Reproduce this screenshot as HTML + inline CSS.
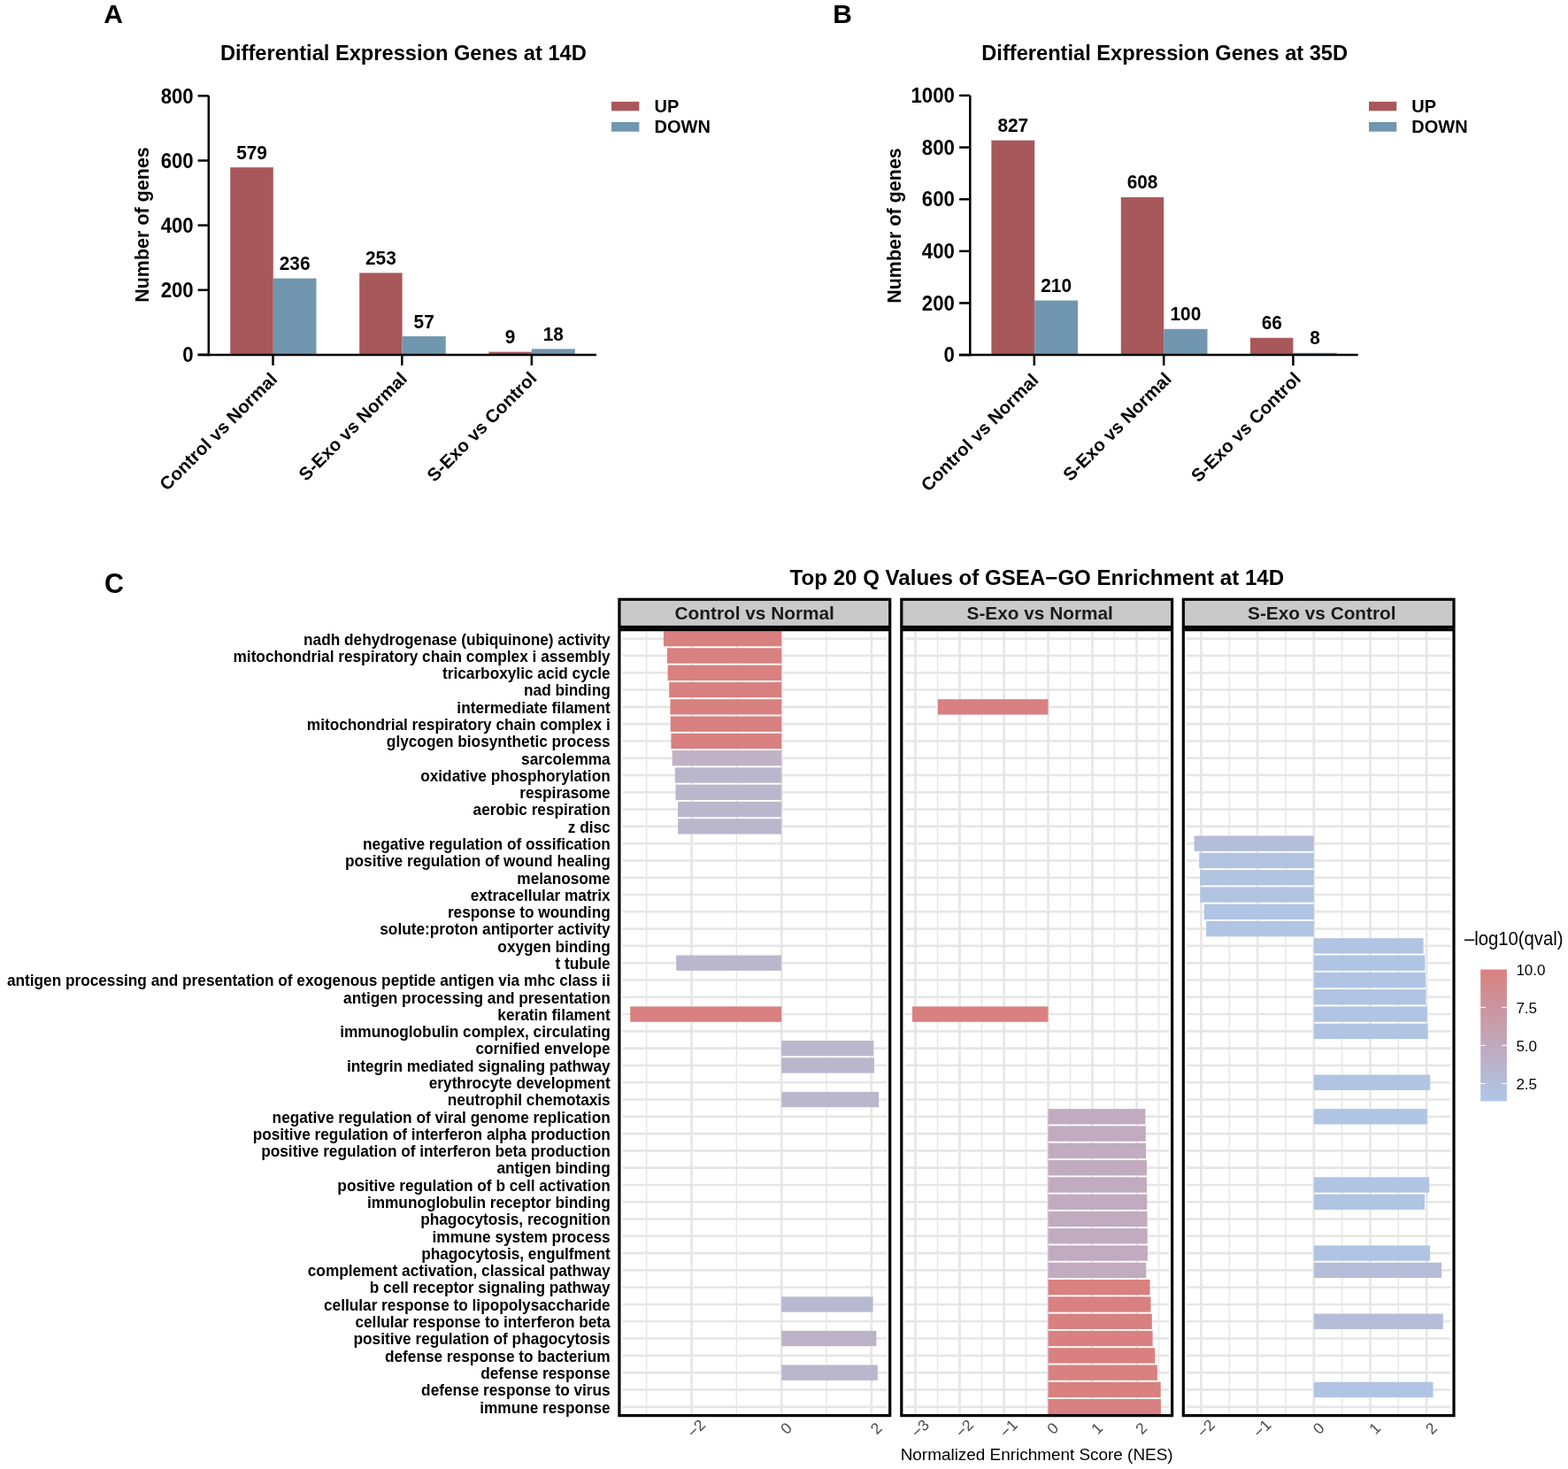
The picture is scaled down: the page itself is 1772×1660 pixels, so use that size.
<!DOCTYPE html>
<html><head><meta charset="utf-8"><title>Differential expression figure</title>
<style>
html,body{margin:0;padding:0;background:#fff;}
body{width:1772px;height:1660px;overflow:hidden;}
svg{display:block;font-family:'Liberation Sans', Arial, Helvetica, sans-serif;}
</style></head><body>
<svg width="1772" height="1660" viewBox="0 0 1772 1660">
<rect x="0" y="0" width="1772" height="1660" fill="#fff"/>
<text x="117.30" y="25.70" font-size="30" font-weight="bold" text-anchor="start" fill="#000" >A</text>
<text x="941.20" y="26.00" font-size="30" font-weight="bold" text-anchor="start" fill="#000" >B</text>
<text x="118.00" y="669.60" font-size="30.5" font-weight="bold" text-anchor="start" fill="#000" >C</text>
<defs><clipPath id="clip0"><rect x="701.50" y="713.30" width="302.60" height="884.70"/></clipPath><clipPath id="clip1"><rect x="1020.40" y="713.30" width="302.60" height="884.70"/></clipPath><clipPath id="clip2"><rect x="1338.90" y="713.30" width="302.50" height="884.70"/></clipPath></defs>
<text x="248.90" y="67.80" font-size="23" font-weight="bold" text-anchor="start" fill="#000" textLength="413.9" lengthAdjust="spacingAndGlyphs" >Differential Expression Genes at 14D</text>
<rect x="260.20" y="189.13" width="48.60" height="211.77" fill="#a8585a" />
<rect x="308.80" y="314.58" width="48.70" height="86.32" fill="#7097af" />
<text transform="translate(284.50 179.63) scale(1.0 1.06)" font-size="20.8" font-weight="bold" text-anchor="middle" fill="#000" >579</text>
<text transform="translate(333.15 305.08) scale(1.0 1.06)" font-size="20.8" font-weight="bold" text-anchor="middle" fill="#000" >236</text>
<rect x="406.20" y="308.37" width="48.40" height="92.53" fill="#a8585a" />
<rect x="454.60" y="380.05" width="49.10" height="20.85" fill="#7097af" />
<text transform="translate(430.40 298.87) scale(1.0 1.06)" font-size="20.8" font-weight="bold" text-anchor="middle" fill="#000" >253</text>
<text transform="translate(479.15 370.55) scale(1.0 1.06)" font-size="20.8" font-weight="bold" text-anchor="middle" fill="#000" >57</text>
<rect x="552.40" y="397.61" width="48.40" height="3.29" fill="#a8585a" />
<rect x="600.80" y="394.32" width="49.00" height="6.58" fill="#7097af" />
<text transform="translate(576.60 388.11) scale(1.0 1.06)" font-size="20.8" font-weight="bold" text-anchor="middle" fill="#000" >9</text>
<text transform="translate(625.30 384.82) scale(1.0 1.06)" font-size="20.8" font-weight="bold" text-anchor="middle" fill="#000" >18</text>
<line x1="235.80" y1="108.30" x2="235.80" y2="402.15" stroke="#000" stroke-width="2.5" />
<line x1="223.60" y1="400.90" x2="674.00" y2="400.90" stroke="#000" stroke-width="2.5" />
<line x1="223.60" y1="400.90" x2="235.80" y2="400.90" stroke="#000" stroke-width="2.5" />
<text transform="translate(218.70 409.10) scale(1.0 1.05)" font-size="22.2" font-weight="bold" text-anchor="end" fill="#000" >0</text>
<line x1="223.60" y1="327.75" x2="235.80" y2="327.75" stroke="#000" stroke-width="2.5" />
<text transform="translate(218.70 335.95) scale(1.0 1.05)" font-size="22.2" font-weight="bold" text-anchor="end" fill="#000" >200</text>
<line x1="223.60" y1="254.60" x2="235.80" y2="254.60" stroke="#000" stroke-width="2.5" />
<text transform="translate(218.70 262.80) scale(1.0 1.05)" font-size="22.2" font-weight="bold" text-anchor="end" fill="#000" >400</text>
<line x1="223.60" y1="181.45" x2="235.80" y2="181.45" stroke="#000" stroke-width="2.5" />
<text transform="translate(218.70 189.65) scale(1.0 1.05)" font-size="22.2" font-weight="bold" text-anchor="end" fill="#000" >600</text>
<line x1="223.60" y1="108.30" x2="235.80" y2="108.30" stroke="#000" stroke-width="2.5" />
<text transform="translate(218.70 116.50) scale(1.0 1.05)" font-size="22.2" font-weight="bold" text-anchor="end" fill="#000" >800</text>
<line x1="308.50" y1="400.90" x2="308.50" y2="412.90" stroke="#000" stroke-width="2.5" />
<line x1="454.30" y1="400.90" x2="454.30" y2="412.90" stroke="#000" stroke-width="2.5" />
<line x1="600.80" y1="400.90" x2="600.80" y2="412.90" stroke="#000" stroke-width="2.5" />
<text x="168.00" y="254.00" font-size="21.5" font-weight="bold" text-anchor="middle" fill="#000" transform="rotate(-90 168.00 254.00)">Number of genes</text>
<text x="314.50" y="429.80" font-size="20.5" font-weight="bold" text-anchor="end" fill="#000" transform="rotate(-45 314.50 429.80)">Control vs Normal</text>
<text x="461.30" y="429.30" font-size="20.5" font-weight="bold" text-anchor="end" fill="#000" transform="rotate(-45 461.30 429.30)">S-Exo vs Normal</text>
<text x="607.70" y="428.60" font-size="20.5" font-weight="bold" text-anchor="end" fill="#000" transform="rotate(-45 607.70 428.60)">S-Exo vs Control</text>
<rect x="691.00" y="114.90" width="31.40" height="10.40" fill="#a8585a" />
<rect x="691.00" y="138.00" width="31.40" height="10.70" fill="#7097af" />
<text x="739.50" y="126.90" font-size="20" font-weight="bold" text-anchor="start" fill="#000" >UP</text>
<text x="739.50" y="149.90" font-size="20" font-weight="bold" text-anchor="start" fill="#000" >DOWN</text>
<text x="1109.30" y="68.20" font-size="23" font-weight="bold" text-anchor="start" fill="#000" textLength="413.8" lengthAdjust="spacingAndGlyphs" >Differential Expression Genes at 35D</text>
<rect x="1120.40" y="158.62" width="48.80" height="242.48" fill="#a8585a" />
<rect x="1169.20" y="339.53" width="48.90" height="61.57" fill="#7097af" />
<text transform="translate(1144.80 149.12) scale(1.0 1.06)" font-size="20.8" font-weight="bold" text-anchor="middle" fill="#000" >827</text>
<text transform="translate(1193.65 330.03) scale(1.0 1.06)" font-size="20.8" font-weight="bold" text-anchor="middle" fill="#000" >210</text>
<rect x="1266.80" y="222.83" width="48.40" height="178.27" fill="#a8585a" />
<rect x="1315.20" y="371.78" width="49.30" height="29.32" fill="#7097af" />
<text transform="translate(1291.00 213.33) scale(1.0 1.06)" font-size="20.8" font-weight="bold" text-anchor="middle" fill="#000" >608</text>
<text transform="translate(1339.85 362.28) scale(1.0 1.06)" font-size="20.8" font-weight="bold" text-anchor="middle" fill="#000" >100</text>
<rect x="1413.00" y="381.75" width="48.40" height="19.35" fill="#a8585a" />
<rect x="1461.40" y="398.75" width="49.30" height="2.35" fill="#7097af" />
<text transform="translate(1437.20 372.25) scale(1.0 1.06)" font-size="20.8" font-weight="bold" text-anchor="middle" fill="#000" >66</text>
<text transform="translate(1486.05 389.25) scale(1.0 1.06)" font-size="20.8" font-weight="bold" text-anchor="middle" fill="#000" >8</text>
<line x1="1096.30" y1="107.90" x2="1096.30" y2="402.35" stroke="#000" stroke-width="2.5" />
<line x1="1083.80" y1="401.10" x2="1534.70" y2="401.10" stroke="#000" stroke-width="2.5" />
<line x1="1084.10" y1="401.10" x2="1096.30" y2="401.10" stroke="#000" stroke-width="2.5" />
<text transform="translate(1078.90 409.30) scale(1.0 1.05)" font-size="22.2" font-weight="bold" text-anchor="end" fill="#000" >0</text>
<line x1="1084.10" y1="342.46" x2="1096.30" y2="342.46" stroke="#000" stroke-width="2.5" />
<text transform="translate(1078.90 350.66) scale(1.0 1.05)" font-size="22.2" font-weight="bold" text-anchor="end" fill="#000" >200</text>
<line x1="1084.10" y1="283.82" x2="1096.30" y2="283.82" stroke="#000" stroke-width="2.5" />
<text transform="translate(1078.90 292.02) scale(1.0 1.05)" font-size="22.2" font-weight="bold" text-anchor="end" fill="#000" >400</text>
<line x1="1084.10" y1="225.18" x2="1096.30" y2="225.18" stroke="#000" stroke-width="2.5" />
<text transform="translate(1078.90 233.38) scale(1.0 1.05)" font-size="22.2" font-weight="bold" text-anchor="end" fill="#000" >600</text>
<line x1="1084.10" y1="166.54" x2="1096.30" y2="166.54" stroke="#000" stroke-width="2.5" />
<text transform="translate(1078.90 174.74) scale(1.0 1.05)" font-size="22.2" font-weight="bold" text-anchor="end" fill="#000" >800</text>
<line x1="1084.10" y1="107.90" x2="1096.30" y2="107.90" stroke="#000" stroke-width="2.5" />
<text transform="translate(1078.90 116.10) scale(1.0 1.05)" font-size="22.2" font-weight="bold" text-anchor="end" fill="#000" >1000</text>
<line x1="1168.80" y1="401.10" x2="1168.80" y2="413.10" stroke="#000" stroke-width="2.5" />
<line x1="1315.20" y1="401.10" x2="1315.20" y2="413.10" stroke="#000" stroke-width="2.5" />
<line x1="1461.40" y1="401.10" x2="1461.40" y2="413.10" stroke="#000" stroke-width="2.5" />
<text x="1017.50" y="255.00" font-size="21.5" font-weight="bold" text-anchor="middle" fill="#000" transform="rotate(-90 1017.50 255.00)">Number of genes</text>
<text x="1174.80" y="430.80" font-size="20.5" font-weight="bold" text-anchor="end" fill="#000" transform="rotate(-45 1174.80 430.80)">Control vs Normal</text>
<text x="1325.00" y="429.60" font-size="20.5" font-weight="bold" text-anchor="end" fill="#000" transform="rotate(-45 1325.00 429.60)">S-Exo vs Normal</text>
<text x="1471.30" y="429.30" font-size="20.5" font-weight="bold" text-anchor="end" fill="#000" transform="rotate(-45 1471.30 429.30)">S-Exo vs Control</text>
<rect x="1547.00" y="114.90" width="31.30" height="10.40" fill="#a8585a" />
<rect x="1547.00" y="138.00" width="31.30" height="10.70" fill="#7097af" />
<text x="1595.30" y="126.90" font-size="20" font-weight="bold" text-anchor="start" fill="#000" >UP</text>
<text x="1595.30" y="149.90" font-size="20" font-weight="bold" text-anchor="start" fill="#000" >DOWN</text>
<text x="892.60" y="661.30" font-size="23" font-weight="bold" text-anchor="start" fill="#000" textLength="558.5" lengthAdjust="spacingAndGlyphs" >Top 20 Q Values of GSEA−GO Enrichment at 14D</text>
<rect x="701.50" y="713.30" width="302.60" height="884.70" fill="#fff" />
<g clip-path="url(#clip0)">
<line x1="730.65" y1="713.30" x2="730.65" y2="1598.00" stroke="#e6e6e6" stroke-width="1.4" />
<line x1="781.50" y1="713.30" x2="781.50" y2="1598.00" stroke="#e6e6e6" stroke-width="2.6" />
<line x1="832.35" y1="713.30" x2="832.35" y2="1598.00" stroke="#e6e6e6" stroke-width="1.4" />
<line x1="883.20" y1="713.30" x2="883.20" y2="1598.00" stroke="#e6e6e6" stroke-width="2.6" />
<line x1="934.05" y1="713.30" x2="934.05" y2="1598.00" stroke="#e6e6e6" stroke-width="1.4" />
<line x1="984.90" y1="713.30" x2="984.90" y2="1598.00" stroke="#e6e6e6" stroke-width="2.6" />
<line x1="703.50" y1="721.70" x2="1002.10" y2="721.70" stroke="#e6e6e6" stroke-width="2.6" />
<line x1="703.50" y1="740.99" x2="1002.10" y2="740.99" stroke="#e6e6e6" stroke-width="2.6" />
<line x1="703.50" y1="760.28" x2="1002.10" y2="760.28" stroke="#e6e6e6" stroke-width="2.6" />
<line x1="703.50" y1="779.57" x2="1002.10" y2="779.57" stroke="#e6e6e6" stroke-width="2.6" />
<line x1="703.50" y1="798.86" x2="1002.10" y2="798.86" stroke="#e6e6e6" stroke-width="2.6" />
<line x1="703.50" y1="818.15" x2="1002.10" y2="818.15" stroke="#e6e6e6" stroke-width="2.6" />
<line x1="703.50" y1="837.43" x2="1002.10" y2="837.43" stroke="#e6e6e6" stroke-width="2.6" />
<line x1="703.50" y1="856.72" x2="1002.10" y2="856.72" stroke="#e6e6e6" stroke-width="2.6" />
<line x1="703.50" y1="876.01" x2="1002.10" y2="876.01" stroke="#e6e6e6" stroke-width="2.6" />
<line x1="703.50" y1="895.30" x2="1002.10" y2="895.30" stroke="#e6e6e6" stroke-width="2.6" />
<line x1="703.50" y1="914.59" x2="1002.10" y2="914.59" stroke="#e6e6e6" stroke-width="2.6" />
<line x1="703.50" y1="933.88" x2="1002.10" y2="933.88" stroke="#e6e6e6" stroke-width="2.6" />
<line x1="703.50" y1="953.17" x2="1002.10" y2="953.17" stroke="#e6e6e6" stroke-width="2.6" />
<line x1="703.50" y1="972.46" x2="1002.10" y2="972.46" stroke="#e6e6e6" stroke-width="2.6" />
<line x1="703.50" y1="991.75" x2="1002.10" y2="991.75" stroke="#e6e6e6" stroke-width="2.6" />
<line x1="703.50" y1="1011.04" x2="1002.10" y2="1011.04" stroke="#e6e6e6" stroke-width="2.6" />
<line x1="703.50" y1="1030.32" x2="1002.10" y2="1030.32" stroke="#e6e6e6" stroke-width="2.6" />
<line x1="703.50" y1="1049.61" x2="1002.10" y2="1049.61" stroke="#e6e6e6" stroke-width="2.6" />
<line x1="703.50" y1="1068.90" x2="1002.10" y2="1068.90" stroke="#e6e6e6" stroke-width="2.6" />
<line x1="703.50" y1="1088.19" x2="1002.10" y2="1088.19" stroke="#e6e6e6" stroke-width="2.6" />
<line x1="703.50" y1="1107.48" x2="1002.10" y2="1107.48" stroke="#e6e6e6" stroke-width="2.6" />
<line x1="703.50" y1="1126.77" x2="1002.10" y2="1126.77" stroke="#e6e6e6" stroke-width="2.6" />
<line x1="703.50" y1="1146.06" x2="1002.10" y2="1146.06" stroke="#e6e6e6" stroke-width="2.6" />
<line x1="703.50" y1="1165.35" x2="1002.10" y2="1165.35" stroke="#e6e6e6" stroke-width="2.6" />
<line x1="703.50" y1="1184.64" x2="1002.10" y2="1184.64" stroke="#e6e6e6" stroke-width="2.6" />
<line x1="703.50" y1="1203.93" x2="1002.10" y2="1203.93" stroke="#e6e6e6" stroke-width="2.6" />
<line x1="703.50" y1="1223.21" x2="1002.10" y2="1223.21" stroke="#e6e6e6" stroke-width="2.6" />
<line x1="703.50" y1="1242.50" x2="1002.10" y2="1242.50" stroke="#e6e6e6" stroke-width="2.6" />
<line x1="703.50" y1="1261.79" x2="1002.10" y2="1261.79" stroke="#e6e6e6" stroke-width="2.6" />
<line x1="703.50" y1="1281.08" x2="1002.10" y2="1281.08" stroke="#e6e6e6" stroke-width="2.6" />
<line x1="703.50" y1="1300.37" x2="1002.10" y2="1300.37" stroke="#e6e6e6" stroke-width="2.6" />
<line x1="703.50" y1="1319.66" x2="1002.10" y2="1319.66" stroke="#e6e6e6" stroke-width="2.6" />
<line x1="703.50" y1="1338.95" x2="1002.10" y2="1338.95" stroke="#e6e6e6" stroke-width="2.6" />
<line x1="703.50" y1="1358.24" x2="1002.10" y2="1358.24" stroke="#e6e6e6" stroke-width="2.6" />
<line x1="703.50" y1="1377.53" x2="1002.10" y2="1377.53" stroke="#e6e6e6" stroke-width="2.6" />
<line x1="703.50" y1="1396.82" x2="1002.10" y2="1396.82" stroke="#e6e6e6" stroke-width="2.6" />
<line x1="703.50" y1="1416.10" x2="1002.10" y2="1416.10" stroke="#e6e6e6" stroke-width="2.6" />
<line x1="703.50" y1="1435.39" x2="1002.10" y2="1435.39" stroke="#e6e6e6" stroke-width="2.6" />
<line x1="703.50" y1="1454.68" x2="1002.10" y2="1454.68" stroke="#e6e6e6" stroke-width="2.6" />
<line x1="703.50" y1="1473.97" x2="1002.10" y2="1473.97" stroke="#e6e6e6" stroke-width="2.6" />
<line x1="703.50" y1="1493.26" x2="1002.10" y2="1493.26" stroke="#e6e6e6" stroke-width="2.6" />
<line x1="703.50" y1="1512.55" x2="1002.10" y2="1512.55" stroke="#e6e6e6" stroke-width="2.6" />
<line x1="703.50" y1="1531.84" x2="1002.10" y2="1531.84" stroke="#e6e6e6" stroke-width="2.6" />
<line x1="703.50" y1="1551.13" x2="1002.10" y2="1551.13" stroke="#e6e6e6" stroke-width="2.6" />
<line x1="703.50" y1="1570.42" x2="1002.10" y2="1570.42" stroke="#e6e6e6" stroke-width="2.6" />
<line x1="703.50" y1="1589.71" x2="1002.10" y2="1589.71" stroke="#e6e6e6" stroke-width="2.6" />
<rect x="749.90" y="713.02" width="133.30" height="17.36" fill="#d98080" />
<rect x="753.90" y="732.31" width="129.30" height="17.36" fill="#d98080" />
<rect x="754.60" y="751.60" width="128.60" height="17.36" fill="#d98080" />
<rect x="756.20" y="770.89" width="127.00" height="17.36" fill="#d98080" />
<rect x="757.40" y="790.18" width="125.80" height="17.36" fill="#d98080" />
<rect x="757.70" y="809.47" width="125.50" height="17.36" fill="#d98080" />
<rect x="758.40" y="828.75" width="124.80" height="17.36" fill="#d98080" />
<rect x="759.70" y="848.04" width="123.50" height="17.36" fill="#c0b3c7" />
<rect x="762.80" y="867.33" width="120.40" height="17.36" fill="#bab7cd" />
<rect x="763.50" y="886.62" width="119.70" height="17.36" fill="#bab7cd" />
<rect x="766.00" y="905.91" width="117.20" height="17.36" fill="#bab7cd" />
<rect x="766.10" y="925.20" width="117.10" height="17.36" fill="#bab7cd" />
<rect x="764.20" y="1079.51" width="119.00" height="17.36" fill="#bab7cd" />
<rect x="712.20" y="1137.38" width="171.00" height="17.36" fill="#d98080" />
<rect x="883.20" y="1175.96" width="104.10" height="17.36" fill="#bab7cd" />
<rect x="883.20" y="1195.25" width="104.80" height="17.36" fill="#bab7cd" />
<rect x="883.20" y="1233.82" width="110.00" height="17.36" fill="#bab7cd" />
<rect x="883.20" y="1465.29" width="103.40" height="17.36" fill="#b8bad1" />
<rect x="883.20" y="1503.87" width="107.20" height="17.36" fill="#bcb3c9" />
<rect x="883.20" y="1542.45" width="108.60" height="17.36" fill="#bab7cd" />
</g>
<rect x="699.90" y="711.70" width="305.80" height="887.90" fill="none" stroke="#000" stroke-width="3.2"/>
<rect x="699.90" y="677.30" width="305.80" height="31.20" fill="#c9c9c9" stroke="#000" stroke-width="3.2"/>
<text x="852.70" y="700.30" font-size="20.8" font-weight="bold" text-anchor="middle" fill="#1a1a1a" >Control vs Normal</text>
<text transform="translate(791.06 1618.34) rotate(-45)" font-size="17.5" font-weight="normal" text-anchor="middle" fill="#4d4d4d" >−2</text>
<text transform="translate(892.76 1618.34) rotate(-45)" font-size="17.5" font-weight="normal" text-anchor="middle" fill="#4d4d4d" >0</text>
<text transform="translate(994.46 1618.34) rotate(-45)" font-size="17.5" font-weight="normal" text-anchor="middle" fill="#4d4d4d" >2</text>
<rect x="1020.40" y="713.30" width="302.60" height="884.70" fill="#fff" />
<g clip-path="url(#clip1)">
<line x1="1034.50" y1="713.30" x2="1034.50" y2="1598.00" stroke="#e6e6e6" stroke-width="2.6" />
<line x1="1059.50" y1="713.30" x2="1059.50" y2="1598.00" stroke="#e6e6e6" stroke-width="1.4" />
<line x1="1084.50" y1="713.30" x2="1084.50" y2="1598.00" stroke="#e6e6e6" stroke-width="2.6" />
<line x1="1109.50" y1="713.30" x2="1109.50" y2="1598.00" stroke="#e6e6e6" stroke-width="1.4" />
<line x1="1134.50" y1="713.30" x2="1134.50" y2="1598.00" stroke="#e6e6e6" stroke-width="2.6" />
<line x1="1159.50" y1="713.30" x2="1159.50" y2="1598.00" stroke="#e6e6e6" stroke-width="1.4" />
<line x1="1184.50" y1="713.30" x2="1184.50" y2="1598.00" stroke="#e6e6e6" stroke-width="2.6" />
<line x1="1209.50" y1="713.30" x2="1209.50" y2="1598.00" stroke="#e6e6e6" stroke-width="1.4" />
<line x1="1234.50" y1="713.30" x2="1234.50" y2="1598.00" stroke="#e6e6e6" stroke-width="2.6" />
<line x1="1259.50" y1="713.30" x2="1259.50" y2="1598.00" stroke="#e6e6e6" stroke-width="1.4" />
<line x1="1284.50" y1="713.30" x2="1284.50" y2="1598.00" stroke="#e6e6e6" stroke-width="2.6" />
<line x1="1309.50" y1="713.30" x2="1309.50" y2="1598.00" stroke="#e6e6e6" stroke-width="1.4" />
<line x1="1022.40" y1="721.70" x2="1321.00" y2="721.70" stroke="#e6e6e6" stroke-width="2.6" />
<line x1="1022.40" y1="740.99" x2="1321.00" y2="740.99" stroke="#e6e6e6" stroke-width="2.6" />
<line x1="1022.40" y1="760.28" x2="1321.00" y2="760.28" stroke="#e6e6e6" stroke-width="2.6" />
<line x1="1022.40" y1="779.57" x2="1321.00" y2="779.57" stroke="#e6e6e6" stroke-width="2.6" />
<line x1="1022.40" y1="798.86" x2="1321.00" y2="798.86" stroke="#e6e6e6" stroke-width="2.6" />
<line x1="1022.40" y1="818.15" x2="1321.00" y2="818.15" stroke="#e6e6e6" stroke-width="2.6" />
<line x1="1022.40" y1="837.43" x2="1321.00" y2="837.43" stroke="#e6e6e6" stroke-width="2.6" />
<line x1="1022.40" y1="856.72" x2="1321.00" y2="856.72" stroke="#e6e6e6" stroke-width="2.6" />
<line x1="1022.40" y1="876.01" x2="1321.00" y2="876.01" stroke="#e6e6e6" stroke-width="2.6" />
<line x1="1022.40" y1="895.30" x2="1321.00" y2="895.30" stroke="#e6e6e6" stroke-width="2.6" />
<line x1="1022.40" y1="914.59" x2="1321.00" y2="914.59" stroke="#e6e6e6" stroke-width="2.6" />
<line x1="1022.40" y1="933.88" x2="1321.00" y2="933.88" stroke="#e6e6e6" stroke-width="2.6" />
<line x1="1022.40" y1="953.17" x2="1321.00" y2="953.17" stroke="#e6e6e6" stroke-width="2.6" />
<line x1="1022.40" y1="972.46" x2="1321.00" y2="972.46" stroke="#e6e6e6" stroke-width="2.6" />
<line x1="1022.40" y1="991.75" x2="1321.00" y2="991.75" stroke="#e6e6e6" stroke-width="2.6" />
<line x1="1022.40" y1="1011.04" x2="1321.00" y2="1011.04" stroke="#e6e6e6" stroke-width="2.6" />
<line x1="1022.40" y1="1030.32" x2="1321.00" y2="1030.32" stroke="#e6e6e6" stroke-width="2.6" />
<line x1="1022.40" y1="1049.61" x2="1321.00" y2="1049.61" stroke="#e6e6e6" stroke-width="2.6" />
<line x1="1022.40" y1="1068.90" x2="1321.00" y2="1068.90" stroke="#e6e6e6" stroke-width="2.6" />
<line x1="1022.40" y1="1088.19" x2="1321.00" y2="1088.19" stroke="#e6e6e6" stroke-width="2.6" />
<line x1="1022.40" y1="1107.48" x2="1321.00" y2="1107.48" stroke="#e6e6e6" stroke-width="2.6" />
<line x1="1022.40" y1="1126.77" x2="1321.00" y2="1126.77" stroke="#e6e6e6" stroke-width="2.6" />
<line x1="1022.40" y1="1146.06" x2="1321.00" y2="1146.06" stroke="#e6e6e6" stroke-width="2.6" />
<line x1="1022.40" y1="1165.35" x2="1321.00" y2="1165.35" stroke="#e6e6e6" stroke-width="2.6" />
<line x1="1022.40" y1="1184.64" x2="1321.00" y2="1184.64" stroke="#e6e6e6" stroke-width="2.6" />
<line x1="1022.40" y1="1203.93" x2="1321.00" y2="1203.93" stroke="#e6e6e6" stroke-width="2.6" />
<line x1="1022.40" y1="1223.21" x2="1321.00" y2="1223.21" stroke="#e6e6e6" stroke-width="2.6" />
<line x1="1022.40" y1="1242.50" x2="1321.00" y2="1242.50" stroke="#e6e6e6" stroke-width="2.6" />
<line x1="1022.40" y1="1261.79" x2="1321.00" y2="1261.79" stroke="#e6e6e6" stroke-width="2.6" />
<line x1="1022.40" y1="1281.08" x2="1321.00" y2="1281.08" stroke="#e6e6e6" stroke-width="2.6" />
<line x1="1022.40" y1="1300.37" x2="1321.00" y2="1300.37" stroke="#e6e6e6" stroke-width="2.6" />
<line x1="1022.40" y1="1319.66" x2="1321.00" y2="1319.66" stroke="#e6e6e6" stroke-width="2.6" />
<line x1="1022.40" y1="1338.95" x2="1321.00" y2="1338.95" stroke="#e6e6e6" stroke-width="2.6" />
<line x1="1022.40" y1="1358.24" x2="1321.00" y2="1358.24" stroke="#e6e6e6" stroke-width="2.6" />
<line x1="1022.40" y1="1377.53" x2="1321.00" y2="1377.53" stroke="#e6e6e6" stroke-width="2.6" />
<line x1="1022.40" y1="1396.82" x2="1321.00" y2="1396.82" stroke="#e6e6e6" stroke-width="2.6" />
<line x1="1022.40" y1="1416.10" x2="1321.00" y2="1416.10" stroke="#e6e6e6" stroke-width="2.6" />
<line x1="1022.40" y1="1435.39" x2="1321.00" y2="1435.39" stroke="#e6e6e6" stroke-width="2.6" />
<line x1="1022.40" y1="1454.68" x2="1321.00" y2="1454.68" stroke="#e6e6e6" stroke-width="2.6" />
<line x1="1022.40" y1="1473.97" x2="1321.00" y2="1473.97" stroke="#e6e6e6" stroke-width="2.6" />
<line x1="1022.40" y1="1493.26" x2="1321.00" y2="1493.26" stroke="#e6e6e6" stroke-width="2.6" />
<line x1="1022.40" y1="1512.55" x2="1321.00" y2="1512.55" stroke="#e6e6e6" stroke-width="2.6" />
<line x1="1022.40" y1="1531.84" x2="1321.00" y2="1531.84" stroke="#e6e6e6" stroke-width="2.6" />
<line x1="1022.40" y1="1551.13" x2="1321.00" y2="1551.13" stroke="#e6e6e6" stroke-width="2.6" />
<line x1="1022.40" y1="1570.42" x2="1321.00" y2="1570.42" stroke="#e6e6e6" stroke-width="2.6" />
<line x1="1022.40" y1="1589.71" x2="1321.00" y2="1589.71" stroke="#e6e6e6" stroke-width="2.6" />
<rect x="1059.90" y="790.18" width="124.60" height="17.36" fill="#d98080" />
<rect x="1031.00" y="1137.38" width="153.50" height="17.36" fill="#d98080" />
<rect x="1184.50" y="1253.11" width="109.90" height="17.36" fill="#c1abc0" />
<rect x="1184.50" y="1272.40" width="110.30" height="17.36" fill="#c1abc0" />
<rect x="1184.50" y="1291.69" width="110.50" height="17.36" fill="#c1abc0" />
<rect x="1184.50" y="1310.98" width="111.50" height="17.36" fill="#c1abc0" />
<rect x="1184.50" y="1330.27" width="111.50" height="17.36" fill="#c1abc0" />
<rect x="1184.50" y="1349.56" width="111.80" height="17.36" fill="#c1abc0" />
<rect x="1184.50" y="1368.85" width="112.00" height="17.36" fill="#c1abc0" />
<rect x="1184.50" y="1388.13" width="112.20" height="17.36" fill="#c1abc0" />
<rect x="1184.50" y="1407.42" width="112.40" height="17.36" fill="#c1abc0" />
<rect x="1184.50" y="1426.71" width="110.80" height="17.36" fill="#c1abc0" />
<rect x="1184.50" y="1446.00" width="115.00" height="17.36" fill="#d98080" />
<rect x="1184.50" y="1465.29" width="116.00" height="17.36" fill="#d98080" />
<rect x="1184.50" y="1484.58" width="117.30" height="17.36" fill="#d98080" />
<rect x="1184.50" y="1503.87" width="118.10" height="17.36" fill="#d98080" />
<rect x="1184.50" y="1523.16" width="120.80" height="17.36" fill="#d98080" />
<rect x="1184.50" y="1542.45" width="123.40" height="17.36" fill="#d98080" />
<rect x="1184.50" y="1561.74" width="127.20" height="17.36" fill="#d98080" />
<rect x="1184.50" y="1581.03" width="127.40" height="17.36" fill="#d98080" />
</g>
<rect x="1018.80" y="711.70" width="305.80" height="887.90" fill="none" stroke="#000" stroke-width="3.2"/>
<rect x="1018.80" y="677.30" width="305.80" height="31.20" fill="#c9c9c9" stroke="#000" stroke-width="3.2"/>
<text x="1175.20" y="700.30" font-size="20.8" font-weight="bold" text-anchor="middle" fill="#1a1a1a" >S-Exo vs Normal</text>
<text transform="translate(1044.06 1618.34) rotate(-45)" font-size="17.5" font-weight="normal" text-anchor="middle" fill="#4d4d4d" >−3</text>
<text transform="translate(1094.06 1618.34) rotate(-45)" font-size="17.5" font-weight="normal" text-anchor="middle" fill="#4d4d4d" >−2</text>
<text transform="translate(1144.06 1618.34) rotate(-45)" font-size="17.5" font-weight="normal" text-anchor="middle" fill="#4d4d4d" >−1</text>
<text transform="translate(1194.06 1618.34) rotate(-45)" font-size="17.5" font-weight="normal" text-anchor="middle" fill="#4d4d4d" >0</text>
<text transform="translate(1244.06 1618.34) rotate(-45)" font-size="17.5" font-weight="normal" text-anchor="middle" fill="#4d4d4d" >1</text>
<text transform="translate(1294.06 1618.34) rotate(-45)" font-size="17.5" font-weight="normal" text-anchor="middle" fill="#4d4d4d" >2</text>
<rect x="1338.90" y="713.30" width="302.50" height="884.70" fill="#fff" />
<g clip-path="url(#clip2)">
<line x1="1357.40" y1="713.30" x2="1357.40" y2="1598.00" stroke="#e6e6e6" stroke-width="2.6" />
<line x1="1389.25" y1="713.30" x2="1389.25" y2="1598.00" stroke="#e6e6e6" stroke-width="1.4" />
<line x1="1421.10" y1="713.30" x2="1421.10" y2="1598.00" stroke="#e6e6e6" stroke-width="2.6" />
<line x1="1452.95" y1="713.30" x2="1452.95" y2="1598.00" stroke="#e6e6e6" stroke-width="1.4" />
<line x1="1484.80" y1="713.30" x2="1484.80" y2="1598.00" stroke="#e6e6e6" stroke-width="2.6" />
<line x1="1516.65" y1="713.30" x2="1516.65" y2="1598.00" stroke="#e6e6e6" stroke-width="1.4" />
<line x1="1548.50" y1="713.30" x2="1548.50" y2="1598.00" stroke="#e6e6e6" stroke-width="2.6" />
<line x1="1580.35" y1="713.30" x2="1580.35" y2="1598.00" stroke="#e6e6e6" stroke-width="1.4" />
<line x1="1612.20" y1="713.30" x2="1612.20" y2="1598.00" stroke="#e6e6e6" stroke-width="2.6" />
<line x1="1340.90" y1="721.70" x2="1639.40" y2="721.70" stroke="#e6e6e6" stroke-width="2.6" />
<line x1="1340.90" y1="740.99" x2="1639.40" y2="740.99" stroke="#e6e6e6" stroke-width="2.6" />
<line x1="1340.90" y1="760.28" x2="1639.40" y2="760.28" stroke="#e6e6e6" stroke-width="2.6" />
<line x1="1340.90" y1="779.57" x2="1639.40" y2="779.57" stroke="#e6e6e6" stroke-width="2.6" />
<line x1="1340.90" y1="798.86" x2="1639.40" y2="798.86" stroke="#e6e6e6" stroke-width="2.6" />
<line x1="1340.90" y1="818.15" x2="1639.40" y2="818.15" stroke="#e6e6e6" stroke-width="2.6" />
<line x1="1340.90" y1="837.43" x2="1639.40" y2="837.43" stroke="#e6e6e6" stroke-width="2.6" />
<line x1="1340.90" y1="856.72" x2="1639.40" y2="856.72" stroke="#e6e6e6" stroke-width="2.6" />
<line x1="1340.90" y1="876.01" x2="1639.40" y2="876.01" stroke="#e6e6e6" stroke-width="2.6" />
<line x1="1340.90" y1="895.30" x2="1639.40" y2="895.30" stroke="#e6e6e6" stroke-width="2.6" />
<line x1="1340.90" y1="914.59" x2="1639.40" y2="914.59" stroke="#e6e6e6" stroke-width="2.6" />
<line x1="1340.90" y1="933.88" x2="1639.40" y2="933.88" stroke="#e6e6e6" stroke-width="2.6" />
<line x1="1340.90" y1="953.17" x2="1639.40" y2="953.17" stroke="#e6e6e6" stroke-width="2.6" />
<line x1="1340.90" y1="972.46" x2="1639.40" y2="972.46" stroke="#e6e6e6" stroke-width="2.6" />
<line x1="1340.90" y1="991.75" x2="1639.40" y2="991.75" stroke="#e6e6e6" stroke-width="2.6" />
<line x1="1340.90" y1="1011.04" x2="1639.40" y2="1011.04" stroke="#e6e6e6" stroke-width="2.6" />
<line x1="1340.90" y1="1030.32" x2="1639.40" y2="1030.32" stroke="#e6e6e6" stroke-width="2.6" />
<line x1="1340.90" y1="1049.61" x2="1639.40" y2="1049.61" stroke="#e6e6e6" stroke-width="2.6" />
<line x1="1340.90" y1="1068.90" x2="1639.40" y2="1068.90" stroke="#e6e6e6" stroke-width="2.6" />
<line x1="1340.90" y1="1088.19" x2="1639.40" y2="1088.19" stroke="#e6e6e6" stroke-width="2.6" />
<line x1="1340.90" y1="1107.48" x2="1639.40" y2="1107.48" stroke="#e6e6e6" stroke-width="2.6" />
<line x1="1340.90" y1="1126.77" x2="1639.40" y2="1126.77" stroke="#e6e6e6" stroke-width="2.6" />
<line x1="1340.90" y1="1146.06" x2="1639.40" y2="1146.06" stroke="#e6e6e6" stroke-width="2.6" />
<line x1="1340.90" y1="1165.35" x2="1639.40" y2="1165.35" stroke="#e6e6e6" stroke-width="2.6" />
<line x1="1340.90" y1="1184.64" x2="1639.40" y2="1184.64" stroke="#e6e6e6" stroke-width="2.6" />
<line x1="1340.90" y1="1203.93" x2="1639.40" y2="1203.93" stroke="#e6e6e6" stroke-width="2.6" />
<line x1="1340.90" y1="1223.21" x2="1639.40" y2="1223.21" stroke="#e6e6e6" stroke-width="2.6" />
<line x1="1340.90" y1="1242.50" x2="1639.40" y2="1242.50" stroke="#e6e6e6" stroke-width="2.6" />
<line x1="1340.90" y1="1261.79" x2="1639.40" y2="1261.79" stroke="#e6e6e6" stroke-width="2.6" />
<line x1="1340.90" y1="1281.08" x2="1639.40" y2="1281.08" stroke="#e6e6e6" stroke-width="2.6" />
<line x1="1340.90" y1="1300.37" x2="1639.40" y2="1300.37" stroke="#e6e6e6" stroke-width="2.6" />
<line x1="1340.90" y1="1319.66" x2="1639.40" y2="1319.66" stroke="#e6e6e6" stroke-width="2.6" />
<line x1="1340.90" y1="1338.95" x2="1639.40" y2="1338.95" stroke="#e6e6e6" stroke-width="2.6" />
<line x1="1340.90" y1="1358.24" x2="1639.40" y2="1358.24" stroke="#e6e6e6" stroke-width="2.6" />
<line x1="1340.90" y1="1377.53" x2="1639.40" y2="1377.53" stroke="#e6e6e6" stroke-width="2.6" />
<line x1="1340.90" y1="1396.82" x2="1639.40" y2="1396.82" stroke="#e6e6e6" stroke-width="2.6" />
<line x1="1340.90" y1="1416.10" x2="1639.40" y2="1416.10" stroke="#e6e6e6" stroke-width="2.6" />
<line x1="1340.90" y1="1435.39" x2="1639.40" y2="1435.39" stroke="#e6e6e6" stroke-width="2.6" />
<line x1="1340.90" y1="1454.68" x2="1639.40" y2="1454.68" stroke="#e6e6e6" stroke-width="2.6" />
<line x1="1340.90" y1="1473.97" x2="1639.40" y2="1473.97" stroke="#e6e6e6" stroke-width="2.6" />
<line x1="1340.90" y1="1493.26" x2="1639.40" y2="1493.26" stroke="#e6e6e6" stroke-width="2.6" />
<line x1="1340.90" y1="1512.55" x2="1639.40" y2="1512.55" stroke="#e6e6e6" stroke-width="2.6" />
<line x1="1340.90" y1="1531.84" x2="1639.40" y2="1531.84" stroke="#e6e6e6" stroke-width="2.6" />
<line x1="1340.90" y1="1551.13" x2="1639.40" y2="1551.13" stroke="#e6e6e6" stroke-width="2.6" />
<line x1="1340.90" y1="1570.42" x2="1639.40" y2="1570.42" stroke="#e6e6e6" stroke-width="2.6" />
<line x1="1340.90" y1="1589.71" x2="1639.40" y2="1589.71" stroke="#e6e6e6" stroke-width="2.6" />
<rect x="1349.60" y="944.49" width="135.20" height="17.36" fill="#b5bed8" />
<rect x="1355.20" y="963.78" width="129.60" height="17.36" fill="#b2c3e0" />
<rect x="1356.10" y="983.07" width="128.70" height="17.36" fill="#b1c4e0" />
<rect x="1356.40" y="1002.36" width="128.40" height="17.36" fill="#b2c3e0" />
<rect x="1360.70" y="1021.64" width="124.10" height="17.36" fill="#b0c4e3" />
<rect x="1363.20" y="1040.93" width="121.60" height="17.36" fill="#b0c4e3" />
<rect x="1484.80" y="1060.22" width="123.80" height="17.36" fill="#b0c4e3" />
<rect x="1484.80" y="1079.51" width="125.50" height="17.36" fill="#b0c4e3" />
<rect x="1484.80" y="1098.80" width="126.10" height="17.36" fill="#b0c4e3" />
<rect x="1484.80" y="1118.09" width="126.40" height="17.36" fill="#b0c4e3" />
<rect x="1484.80" y="1137.38" width="128.00" height="17.36" fill="#b0c4e3" />
<rect x="1484.80" y="1156.67" width="128.80" height="17.36" fill="#b0c4e3" />
<rect x="1484.80" y="1214.53" width="131.40" height="17.36" fill="#b0c4e3" />
<rect x="1484.80" y="1253.11" width="128.00" height="17.36" fill="#b0c4e3" />
<rect x="1484.80" y="1330.27" width="130.40" height="17.36" fill="#b0c4e3" />
<rect x="1484.80" y="1349.56" width="125.20" height="17.36" fill="#b0c4e3" />
<rect x="1484.80" y="1407.42" width="131.30" height="17.36" fill="#b0c4e3" />
<rect x="1484.80" y="1426.71" width="144.30" height="17.36" fill="#b5bed8" />
<rect x="1484.80" y="1484.58" width="146.00" height="17.36" fill="#b5bed8" />
<rect x="1484.80" y="1561.74" width="134.70" height="17.36" fill="#b0c4e3" />
</g>
<rect x="1337.30" y="711.70" width="305.70" height="887.90" fill="none" stroke="#000" stroke-width="3.2"/>
<rect x="1337.30" y="677.30" width="305.70" height="31.20" fill="#c9c9c9" stroke="#000" stroke-width="3.2"/>
<text x="1493.80" y="700.30" font-size="20.8" font-weight="bold" text-anchor="middle" fill="#1a1a1a" >S-Exo vs Control</text>
<text transform="translate(1366.96 1618.34) rotate(-45)" font-size="17.5" font-weight="normal" text-anchor="middle" fill="#4d4d4d" >−2</text>
<text transform="translate(1430.66 1618.34) rotate(-45)" font-size="17.5" font-weight="normal" text-anchor="middle" fill="#4d4d4d" >−1</text>
<text transform="translate(1494.36 1618.34) rotate(-45)" font-size="17.5" font-weight="normal" text-anchor="middle" fill="#4d4d4d" >0</text>
<text transform="translate(1558.06 1618.34) rotate(-45)" font-size="17.5" font-weight="normal" text-anchor="middle" fill="#4d4d4d" >1</text>
<text transform="translate(1621.76 1618.34) rotate(-45)" font-size="17.5" font-weight="normal" text-anchor="middle" fill="#4d4d4d" >2</text>
<text transform="translate(689.70 728.50) scale(1.0 1.045)" font-size="17.25" font-weight="bold" text-anchor="end" fill="#000" >nadh dehydrogenase (ubiquinone) activity</text>
<text transform="translate(689.70 747.79) scale(1.0 1.045)" font-size="17.25" font-weight="bold" text-anchor="end" fill="#000" >mitochondrial respiratory chain complex i assembly</text>
<text transform="translate(689.70 767.08) scale(1.0 1.045)" font-size="17.25" font-weight="bold" text-anchor="end" fill="#000" >tricarboxylic acid cycle</text>
<text transform="translate(689.70 786.37) scale(1.0 1.045)" font-size="17.25" font-weight="bold" text-anchor="end" fill="#000" >nad binding</text>
<text transform="translate(689.70 805.66) scale(1.0 1.045)" font-size="17.25" font-weight="bold" text-anchor="end" fill="#000" >intermediate filament</text>
<text transform="translate(689.70 824.95) scale(1.0 1.045)" font-size="17.25" font-weight="bold" text-anchor="end" fill="#000" >mitochondrial respiratory chain complex i</text>
<text transform="translate(689.70 844.23) scale(1.0 1.045)" font-size="17.25" font-weight="bold" text-anchor="end" fill="#000" >glycogen biosynthetic process</text>
<text transform="translate(689.70 863.52) scale(1.0 1.045)" font-size="17.25" font-weight="bold" text-anchor="end" fill="#000" >sarcolemma</text>
<text transform="translate(689.70 882.81) scale(1.0 1.045)" font-size="17.25" font-weight="bold" text-anchor="end" fill="#000" >oxidative phosphorylation</text>
<text transform="translate(689.70 902.10) scale(1.0 1.045)" font-size="17.25" font-weight="bold" text-anchor="end" fill="#000" >respirasome</text>
<text transform="translate(689.70 921.39) scale(1.0 1.045)" font-size="17.25" font-weight="bold" text-anchor="end" fill="#000" >aerobic respiration</text>
<text transform="translate(689.70 940.68) scale(1.0 1.045)" font-size="17.25" font-weight="bold" text-anchor="end" fill="#000" >z disc</text>
<text transform="translate(689.70 959.97) scale(1.0 1.045)" font-size="17.25" font-weight="bold" text-anchor="end" fill="#000" >negative regulation of ossification</text>
<text transform="translate(689.70 979.26) scale(1.0 1.045)" font-size="17.25" font-weight="bold" text-anchor="end" fill="#000" >positive regulation of wound healing</text>
<text transform="translate(689.70 998.55) scale(1.0 1.045)" font-size="17.25" font-weight="bold" text-anchor="end" fill="#000" >melanosome</text>
<text transform="translate(689.70 1017.84) scale(1.0 1.045)" font-size="17.25" font-weight="bold" text-anchor="end" fill="#000" >extracellular matrix</text>
<text transform="translate(689.70 1037.12) scale(1.0 1.045)" font-size="17.25" font-weight="bold" text-anchor="end" fill="#000" >response to wounding</text>
<text transform="translate(689.70 1056.41) scale(1.0 1.045)" font-size="17.25" font-weight="bold" text-anchor="end" fill="#000" >solute:proton antiporter activity</text>
<text transform="translate(689.70 1075.70) scale(1.0 1.045)" font-size="17.25" font-weight="bold" text-anchor="end" fill="#000" >oxygen binding</text>
<text transform="translate(689.70 1094.99) scale(1.0 1.045)" font-size="17.25" font-weight="bold" text-anchor="end" fill="#000" >t tubule</text>
<text transform="translate(689.70 1114.28) scale(1.0 1.045)" font-size="17.25" font-weight="bold" text-anchor="end" fill="#000" >antigen processing and presentation of exogenous peptide antigen via mhc class ii</text>
<text transform="translate(689.70 1133.57) scale(1.0 1.045)" font-size="17.25" font-weight="bold" text-anchor="end" fill="#000" >antigen processing and presentation</text>
<text transform="translate(689.70 1152.86) scale(1.0 1.045)" font-size="17.25" font-weight="bold" text-anchor="end" fill="#000" >keratin filament</text>
<text transform="translate(689.70 1172.15) scale(1.0 1.045)" font-size="17.25" font-weight="bold" text-anchor="end" fill="#000" >immunoglobulin complex, circulating</text>
<text transform="translate(689.70 1191.44) scale(1.0 1.045)" font-size="17.25" font-weight="bold" text-anchor="end" fill="#000" >cornified envelope</text>
<text transform="translate(689.70 1210.73) scale(1.0 1.045)" font-size="17.25" font-weight="bold" text-anchor="end" fill="#000" >integrin mediated signaling pathway</text>
<text transform="translate(689.70 1230.01) scale(1.0 1.045)" font-size="17.25" font-weight="bold" text-anchor="end" fill="#000" >erythrocyte development</text>
<text transform="translate(689.70 1249.30) scale(1.0 1.045)" font-size="17.25" font-weight="bold" text-anchor="end" fill="#000" >neutrophil chemotaxis</text>
<text transform="translate(689.70 1268.59) scale(1.0 1.045)" font-size="17.25" font-weight="bold" text-anchor="end" fill="#000" >negative regulation of viral genome replication</text>
<text transform="translate(689.70 1287.88) scale(1.0 1.045)" font-size="17.25" font-weight="bold" text-anchor="end" fill="#000" >positive regulation of interferon alpha production</text>
<text transform="translate(689.70 1307.17) scale(1.0 1.045)" font-size="17.25" font-weight="bold" text-anchor="end" fill="#000" >positive regulation of interferon beta production</text>
<text transform="translate(689.70 1326.46) scale(1.0 1.045)" font-size="17.25" font-weight="bold" text-anchor="end" fill="#000" >antigen binding</text>
<text transform="translate(689.70 1345.75) scale(1.0 1.045)" font-size="17.25" font-weight="bold" text-anchor="end" fill="#000" >positive regulation of b cell activation</text>
<text transform="translate(689.70 1365.04) scale(1.0 1.045)" font-size="17.25" font-weight="bold" text-anchor="end" fill="#000" >immunoglobulin receptor binding</text>
<text transform="translate(689.70 1384.33) scale(1.0 1.045)" font-size="17.25" font-weight="bold" text-anchor="end" fill="#000" >phagocytosis, recognition</text>
<text transform="translate(689.70 1403.62) scale(1.0 1.045)" font-size="17.25" font-weight="bold" text-anchor="end" fill="#000" >immune system process</text>
<text transform="translate(689.70 1422.90) scale(1.0 1.045)" font-size="17.25" font-weight="bold" text-anchor="end" fill="#000" >phagocytosis, engulfment</text>
<text transform="translate(689.70 1442.19) scale(1.0 1.045)" font-size="17.25" font-weight="bold" text-anchor="end" fill="#000" >complement activation, classical pathway</text>
<text transform="translate(689.70 1461.48) scale(1.0 1.045)" font-size="17.25" font-weight="bold" text-anchor="end" fill="#000" >b cell receptor signaling pathway</text>
<text transform="translate(689.70 1480.77) scale(1.0 1.045)" font-size="17.25" font-weight="bold" text-anchor="end" fill="#000" >cellular response to lipopolysaccharide</text>
<text transform="translate(689.70 1500.06) scale(1.0 1.045)" font-size="17.25" font-weight="bold" text-anchor="end" fill="#000" >cellular response to interferon beta</text>
<text transform="translate(689.70 1519.35) scale(1.0 1.045)" font-size="17.25" font-weight="bold" text-anchor="end" fill="#000" >positive regulation of phagocytosis</text>
<text transform="translate(689.70 1538.64) scale(1.0 1.045)" font-size="17.25" font-weight="bold" text-anchor="end" fill="#000" >defense response to bacterium</text>
<text transform="translate(689.70 1557.93) scale(1.0 1.045)" font-size="17.25" font-weight="bold" text-anchor="end" fill="#000" >defense response</text>
<text transform="translate(689.70 1577.22) scale(1.0 1.045)" font-size="17.25" font-weight="bold" text-anchor="end" fill="#000" >defense response to virus</text>
<text transform="translate(689.70 1596.51) scale(1.0 1.045)" font-size="17.25" font-weight="bold" text-anchor="end" fill="#000" >immune response</text>
<text x="1017.70" y="1649.90" font-size="18" font-weight="normal" text-anchor="start" fill="#000" textLength="307.9" lengthAdjust="spacingAndGlyphs" >Normalized Enrichment Score (NES)</text>
<defs><linearGradient id="cb" x1="0" y1="1" x2="0" y2="0"><stop offset="0" stop-color="#aec7e8"/><stop offset="1" stop-color="#d98080"/></linearGradient></defs>
<rect x="1673.20" y="1095.60" width="29.70" height="148.80" fill="url(#cb)" />
<text x="1713.40" y="1101.90" font-size="17" font-weight="normal" text-anchor="start" fill="#000" >10.0</text>
<line x1="1673.20" y1="1138.40" x2="1679.00" y2="1138.40" stroke="#fff" stroke-width="1.1" />
<line x1="1697.10" y1="1138.40" x2="1702.90" y2="1138.40" stroke="#fff" stroke-width="1.1" />
<text x="1713.40" y="1144.70" font-size="17" font-weight="normal" text-anchor="start" fill="#000" >7.5</text>
<line x1="1673.20" y1="1181.40" x2="1679.00" y2="1181.40" stroke="#fff" stroke-width="1.1" />
<line x1="1697.10" y1="1181.40" x2="1702.90" y2="1181.40" stroke="#fff" stroke-width="1.1" />
<text x="1713.40" y="1187.70" font-size="17" font-weight="normal" text-anchor="start" fill="#000" >5.0</text>
<line x1="1673.20" y1="1224.50" x2="1679.00" y2="1224.50" stroke="#fff" stroke-width="1.1" />
<line x1="1697.10" y1="1224.50" x2="1702.90" y2="1224.50" stroke="#fff" stroke-width="1.1" />
<text x="1713.40" y="1230.80" font-size="17" font-weight="normal" text-anchor="start" fill="#000" >2.5</text>
<text x="1655.00" y="1067.80" font-size="21.5" font-weight="normal" text-anchor="start" fill="#000" textLength="111.5" lengthAdjust="spacingAndGlyphs" >–log10(qval)</text>
</svg>
</body></html>
